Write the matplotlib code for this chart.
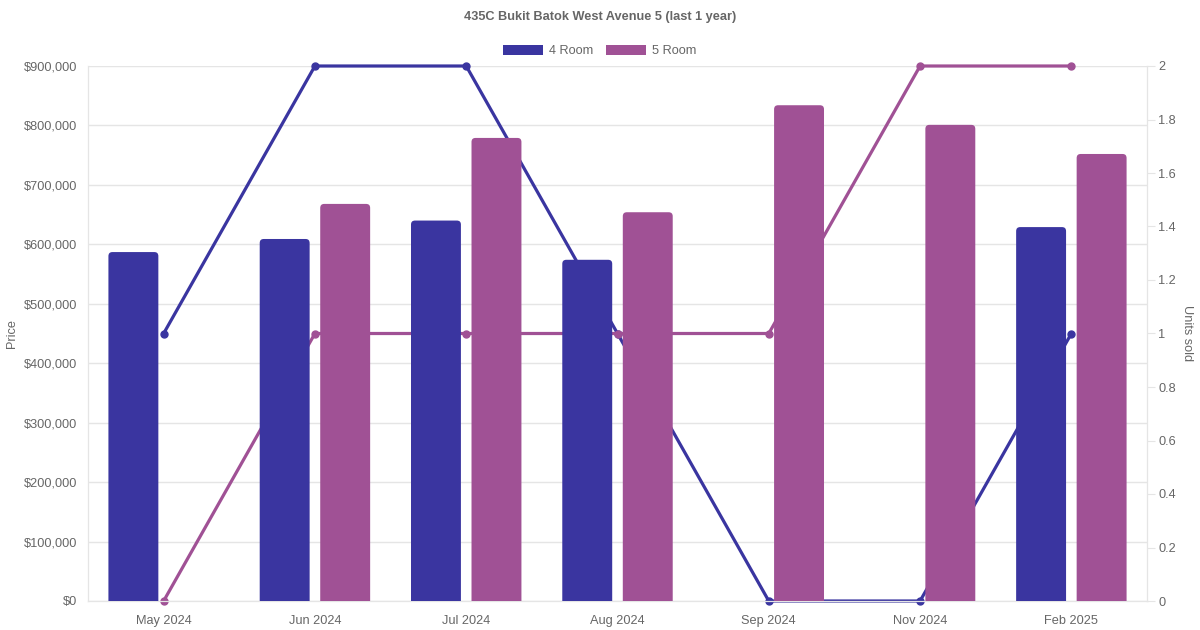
import numpy as np
import matplotlib
matplotlib.use("Agg")
import matplotlib.pyplot as plt
from matplotlib.patches import Patch, FancyBboxPatch
from matplotlib.ticker import FuncFormatter, MultipleLocator

months = ["May 2024", "Jun 2024", "Jul 2024", "Aug 2024", "Sep 2024", "Nov 2024", "Feb 2025"]
price_4room = [587000, 609000, 640000, 574000, None, None, 629000]
price_5room = [None, 668000, 779000, 654000, 834000, 801000, 752000]
units_4room = [1, 2, 2, 1, 0, 0, 1]
units_5room = [0, 1, 1, 1, 1, 2, 2]

C4 = "#3a35a0"
C5 = "#a05195"
TXT = "#666666"
GRID = "#e5e5e5"

plt.rcParams["font.family"] = ["Liberation Sans", "DejaVu Sans"]

fig = plt.figure(figsize=(12, 6.3), dpi=100)
ax = fig.add_axes([88 / 1200, 29 / 630, (1147 - 88) / 1200, 535 / 630])
ax2 = ax.twinx()

PMAX = 900000
x = np.arange(len(months)) + 0.5
w = 0.33

ax.set_xlim(0, len(months))
ax.set_ylim(0, PMAX)
ax2.set_ylim(0, 2)

# pixel sizes, used to round the bar tops a little
px_x = len(months) / (1147 - 88)
px_y = PMAX / 535


def bars(vals, offset, color):
    xs = [xi + offset for xi, v in zip(x, vals) if v is not None]
    hs = [v for v in vals if v is not None]
    for b in ax.bar(xs, hs, width=w, color=color):
        bx, bw, bh = b.get_x(), b.get_width(), b.get_height()
        b.remove()
        r = 4 * px_x
        patch = FancyBboxPatch((bx, -6 * px_y), bw, bh + 6 * px_y,
                               boxstyle=f"round,pad=0,rounding_size={r}",
                               mutation_aspect=px_y / px_x,
                               facecolor=color, edgecolor="none", zorder=3)
        ax.add_patch(patch)


bars(price_4room, -0.2, C4)
bars(price_5room, 0.2, C5)

# grid drawn under the lines, in price units
for t in np.arange(0, PMAX + 1, 100000):
    ax2.axhline(t / PMAX * 2, color=GRID, lw=1, zorder=0)

ax2.plot(x, units_4room, color=C4, lw=2.3, marker="o", ms=5, zorder=2, clip_on=False)
ax2.plot(x, units_5room, color=C5, lw=2.3, marker="o", ms=5, zorder=2, clip_on=False)

# bars above lines, as in the original
ax.set_zorder(2)
ax2.set_zorder(1)
ax.patch.set_visible(False)

ax.set_xticks(x)
ax.set_xticklabels(months)
ax.yaxis.set_major_locator(MultipleLocator(100000))
ax.yaxis.set_major_formatter(FuncFormatter(lambda v, p: f"${v:,.0f}"))
ax2.yaxis.set_major_locator(MultipleLocator(0.2))
ax2.yaxis.set_major_formatter(FuncFormatter(lambda v, p: f"{v:.1f}".rstrip("0").rstrip(".") if v else "0"))

for a in (ax, ax2):
    for s in a.spines.values():
        s.set_color(GRID)
    a.spines["top"].set_visible(False)

ax.tick_params(axis="x", length=0, pad=10, labelsize=9.2, labelcolor=TXT)
ax.tick_params(axis="y", length=0, pad=8, labelsize=9.2, labelcolor=TXT)
ax2.tick_params(axis="y", length=6, color=GRID, pad=2, labelsize=9.2, labelcolor=TXT)

ax.set_ylabel("Price", color=TXT, fontsize=9.2, labelpad=4)
ax2.set_ylabel("Units sold", color=TXT, fontsize=9.2, rotation=270, labelpad=12)

fig.suptitle("435C Bukit Batok West Avenue 5 (last 1 year)", y=0.982, fontsize=9.2,
             fontweight="bold", color=TXT)

handles = [Patch(facecolor=C4, label="4 Room"), Patch(facecolor=C5, label="5 Room")]
fig.legend(handles=handles, loc="center", bbox_to_anchor=(0.5, 1 - 51 / 630), ncol=2,
           frameon=False, fontsize=9.2, handlelength=3.1, handleheight=0.9,
           handletextpad=0.5, columnspacing=1.0, labelcolor=TXT)

fig.savefig("out.png", dpi=100)
